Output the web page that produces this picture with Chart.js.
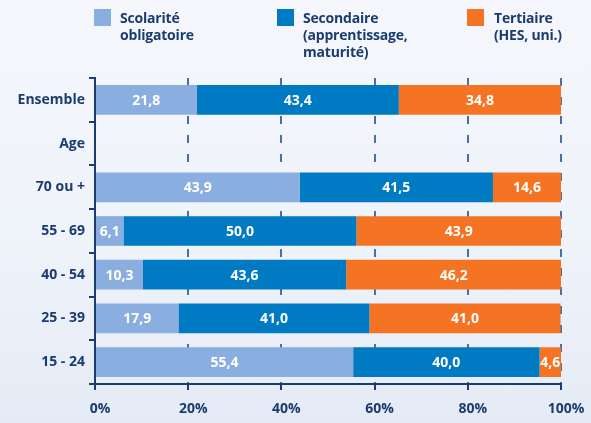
<!DOCTYPE html>
<html lang="fr">
<head>
<meta charset="utf-8">
<script src="https://cdn.jsdelivr.net/npm/chart.js@4.4.1/dist/chart.umd.min.js"></script>
<style>
  html, body { margin: 0; padding: 0; }
  body {
    width: 591px; height: 423px; position: relative; overflow: hidden;
    background: linear-gradient(180deg, #f5f7fc 0%, #eff3fa 55%, #e5ebf6 100%);
    font-family: "Open Sans", "DejaVu Sans", sans-serif;
  }
  #wrap { position: absolute; left: 0; top: 0; width: 591px; height: 423px; }
  .lg { position: absolute; top: 9px; }
  .lg .sw { position: absolute; left: 0; top: 0; width: 17px; height: 17px; }
  .lg .tx {
    position: absolute; top: 0; white-space: nowrap;
    font-size: 14px; font-weight: 700; line-height: 17px; color: #1b3c6e;
    letter-spacing: -0.2px;
  }
</style>
</head>
<body>
<div id="wrap"><canvas id="c" width="591" height="423"></canvas></div>
<div class="lg" style="left:94px"><div class="sw" style="background:#8aaedf"></div><div class="tx" style="left:26px">Scolarité<br>obligatoire</div></div>
<div class="lg" style="left:277px"><div class="sw" style="background:#007ac3"></div><div class="tx" style="left:26px">Secondaire<br>(apprentissage,<br>maturité)</div></div>
<div class="lg" style="left:467px"><div class="sw" style="background:#f47423"></div><div class="tx" style="left:27px">Tertiaire<br>(HES, uni.)</div></div>
<script>
  /* ── Data ─────────────────────────────────────────────── */
  const CATEGORIES = ['Ensemble', 'Age', '70 ou +', '55 - 69', '40 - 54', '25 - 39', '15 - 24'];
  const OBLIGATOIRE = [21.8, null, 43.9, 6.1, 10.3, 17.9, 55.4];
  const SECONDAIRE  = [43.4, null, 41.5, 50.0, 43.6, 41.0, 40.0];
  const TERTIAIRE   = [34.8, null, 14.6, 43.9, 46.2, 41.0, 4.6];
  const X_TICKS     = [0, 20, 40, 60, 80, 100];

  const LIGHT  = '#8aaedf';
  const BLUE   = '#007ac3';
  const ORANGE = '#f47423';
  const NAVY   = '#1b3c6e';
  const GRID   = '#4b6f9f';
  const FONT   = '"Open Sans", "DejaVu Sans", sans-serif';

  /* white values centred in each segment */
  const valueLabels = {
    id: 'valueLabels',
    afterDatasetsDraw(chart) {
      const ctx = chart.ctx;
      ctx.save();
      ctx.fillStyle = '#ffffff';
      ctx.font = 'bold 14px ' + FONT;
      ctx.textAlign = 'center';
      ctx.textBaseline = 'middle';
      chart.data.datasets.forEach((ds, di) => {
        chart.getDatasetMeta(di).data.forEach((bar, i) => {
          const v = ds.data[i];
          if (v == null) return;
          const { x, base, y } = bar.getProps(['x', 'base', 'y'], true);
          ctx.fillText(v.toFixed(1).replace('.', ','), (x + base) / 2, y + 1);
        });
      });
      ctx.restore();
    }
  };

  const mk = (label, data, color) => ({
    label, data, backgroundColor: color, borderWidth: 0,
    categoryPercentage: 1, barPercentage: 0.68,
  });

  new Chart(document.getElementById('c'), {
    type: 'bar',
    data: {
      labels: CATEGORIES,
      datasets: [
        mk('Scolarité obligatoire', OBLIGATOIRE, LIGHT),
        mk('Secondaire (apprentissage, maturité)', SECONDAIRE, BLUE),
        mk('Tertiaire (HES, uni.)', TERTIAIRE, ORANGE),
      ],
    },
    options: {
      indexAxis: 'y',
      responsive: false,
      animation: false,
      layout: { padding: { top: 78, right: 30, left: 0, bottom: 0 } },
      plugins: { legend: { display: false }, tooltip: { enabled: false } },
      scales: {
        x: {
          stacked: true, min: 0, max: 100,
          afterBuildTicks(s) { s.ticks = X_TICKS.map(v => ({ value: v })); },
          afterFit(s) { s.height = 39; },
          grid: { color: GRID, lineWidth: 2, drawTicks: true, tickLength: 6, tickColor: NAVY, tickWidth: 2 },
          border: { color: NAVY, width: 2, dash: [8, 11] },
          ticks: {
            color: NAVY, padding: 11, labelOffset: 5,
            font: { family: FONT, size: 14, weight: 'bold' },
            callback: v => v + '%',
          },
        },
        y: {
          stacked: true,
          afterFit(s) { s.width = 95; },
          grid: { drawOnChartArea: false, drawTicks: true, tickLength: 6, color: NAVY, lineWidth: 2 },
          border: { color: NAVY, width: 2 },
          ticks: {
            color: NAVY, padding: 4,
            font: { family: FONT, size: 14, weight: 'bold' },
          },
        },
      },
    },
    plugins: [valueLabels],
  });
</script>
</body>
</html>
